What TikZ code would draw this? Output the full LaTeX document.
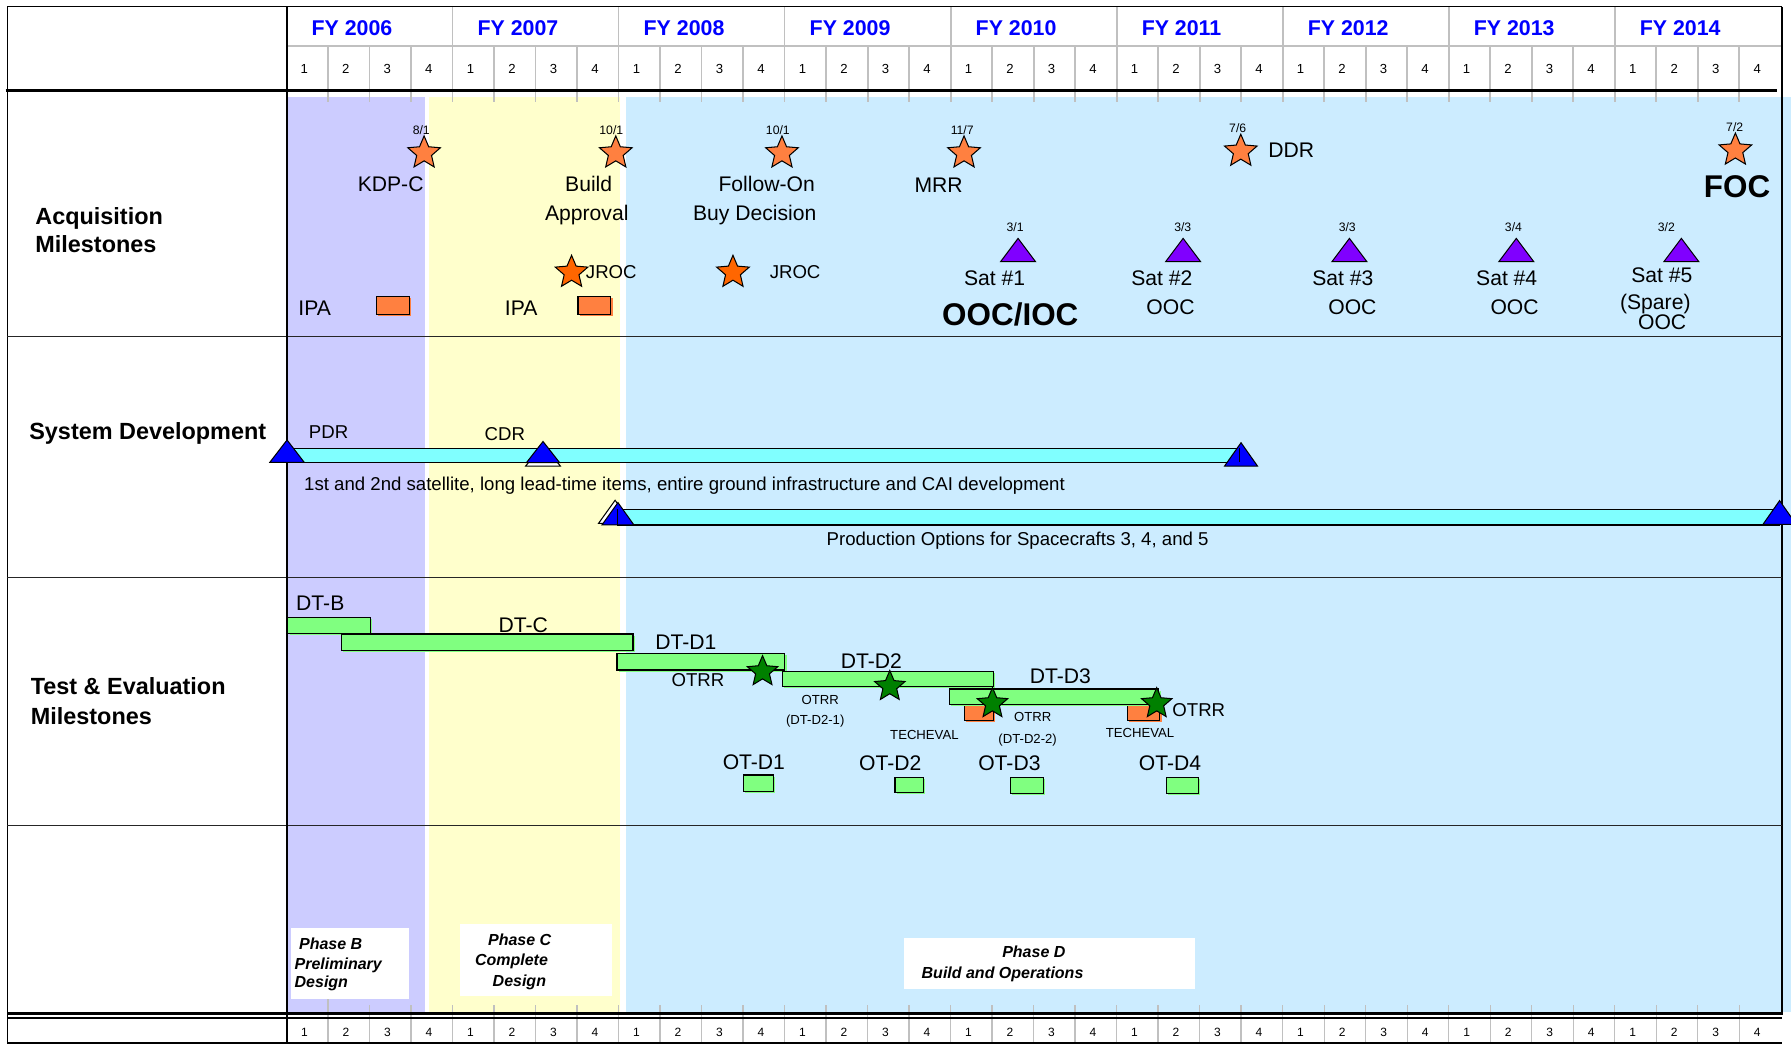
\documentclass[tikz,border=0pt]{standalone}
\usepackage{fontspec}
\setmainfont{Liberation Sans}
\usetikzlibrary{shapes.geometric}
\definecolor{bandP}{RGB}{204,204,255}
\definecolor{bandY}{RGB}{255,255,204}
\definecolor{bandB}{RGB}{204,236,255}
\definecolor{barC}{RGB}{128,255,255}
\definecolor{barG}{RGB}{128,255,128}
\definecolor{starO}{RGB}{255,128,64}
\definecolor{starJ}{RGB}{255,102,0}
\definecolor{starG}{RGB}{0,128,0}
\definecolor{triP}{RGB}{128,0,255}
\definecolor{triB}{RGB}{0,0,255}
\definecolor{gridG}{RGB}{192,192,192}
\definecolor{fyB}{RGB}{0,0,255}
\tikzset{
  tx/.style={inner sep=0pt, outer sep=0pt},
  yr/.style={tx, font=\fontsize{18.7}{20}\selectfont\bfseries, text=fyB, text height=13.4pt, text depth=0pt, anchor=west},
  qn/.style={tx, font=\fontsize{11.5}{13}\selectfont, text height=8.2pt, text depth=0pt},
  qb/.style={tx, font=\fontsize{10.5}{12}\selectfont, text height=7.5pt, text depth=0pt},
  hd/.style={tx, font=\fontsize{20.5}{24}\selectfont\bfseries, text height=14.7pt, text depth=0pt, anchor=west},
  tl/.style={tx, font=\fontsize{18.5}{22}\selectfont, text height=13.25pt, text depth=0pt},
  tm/.style={tx, font=\fontsize{16.3}{19}\selectfont, text height=11.7pt, text depth=0pt},
  ts/.style={tx, font=\fontsize{11.5}{13}\selectfont, text height=8.2pt, text depth=0pt},
  td/.style={tx, font=\fontsize{10.7}{12}\selectfont, text height=7.66pt, text depth=0pt},
  tb/.style={tx, font=\fontsize{27.5}{32}\selectfont\bfseries, text height=19.7pt, text depth=0pt},
  ph/.style={tx, font=\fontsize{14}{16}\selectfont\bfseries\itshape, text height=10pt, text depth=0pt},
  ostar/.style={star, star points=5, star point ratio=2.2, minimum size=30pt, inner sep=0pt, draw=black, line width=0.9pt, fill=starO},
  jstar/.style={ostar, fill=starJ},
  gstar/.style={ostar, fill=starG, minimum size=28pt},
  gbar/.style={draw=black, line width=1pt, fill=barG},
  gshadow/.style={fill=barG},
  oshadow/.style={fill=starO},
  cbar/.style={draw=black, line width=1pt, fill=barC},
  orect/.style={draw=black, line width=1pt, fill=starO},
  ptri/.style={draw=black, line width=0.9pt, fill=triP, line join=miter},
  btri/.style={draw=black, line width=0.9pt, fill=triB, line join=miter},
  wtri/.style={draw=black, line width=0.9pt, fill=white, line join=miter},
  gline/.style={draw=gridG, line width=1.6pt},
  frame/.style={draw=black, line width=1.2pt},
}
\begin{document}
\begin{tikzpicture}[x=1pt,y=-1pt]
\useasboundingbox (0,0) rectangle (1568,918);
\fill[white] (0,0) rectangle (1568,918);
% ---------- phase bands
\fill[bandP] (252.5,84.6) rectangle (372.4,885.7);
\fill[bandY] (376,84.6) rectangle (543,885.7);
\fill[bandB] (548,84.6) rectangle (1568,885.7);
% ---------- grid
\draw[gline] (251.6,40.3) -- (1560,40.3);
\foreach \i in {1,...,35}{
  \pgfmathsetmacro\xx{250.8+\i*36.34}
  \draw[gline] (\xx,40.3) -- (\xx,89);
  \draw[gline, line width=1.2pt] (\xx,880) -- (\xx,913);
}
\foreach \k in {1,...,8}{
  \pgfmathsetmacro\xx{250.8+\k*145.36}
  \draw[gline] (\xx,5.8) -- (\xx,40.3);
}
\draw[gline, line width=1.2pt] ({250.8+36.34},875) -- ({250.8+36.34},880);
% ---------- frame
\draw[frame] (6.4,5.8) -- (1560,5.8);
\draw[frame] (6.4,5.8) -- (6.4,913);
\draw[frame] (1560,5.8) -- (1560,889);
\draw[black, line width=2.5pt] (5,79.4) -- (1556,79.4);
\foreach \yy in {294.5,505.5,722.9} \draw[black!85, line width=1pt] (6.4,\yy) -- (1560,\yy);
\draw[black, line width=2pt] (6.4,887.3) -- (1560,887.3);
\draw[black, line width=2pt] (6.4,891.2) -- (1560,891.2);
\draw[black, line width=1.5pt] (6.4,913) -- (1560,913);
\draw[black, line width=1.8pt] (251.6,5.8) -- (251.6,913);
% ---------- header labels
\foreach \k/\yy in {0/2006,1/2007,2/2008,3/2009,4/2010,5/2011,6/2012,7/2013,8/2014}{
  \node[yr] (fy\yy) at ({250.8+\k*145.36+22},24.5) {FY \yy};
}
\foreach \i in {0,...,35}{
  \pgfmathtruncatemacro\q{mod(\i,4)+1}
  \node[qn] (qt\i) at ({250.8+(\i+0.5)*36.34-2.5},60) {\q};
  \node[qb] (qb\i) at ({250.8+(\i+0.5)*36.34-2.5},903.5) {\q};
}
% ---------- row headings
\node[hd] (hAcqA) at (31,189) {Acquisition};
\node[hd] (hAcqB) at (31,214) {Milestones};
\node[hd] (hSys) at (25.7,377.5) {System Development};
\node[hd] (hTEA) at (27,601) {Test \& Evaluation};
\node[hd] (hTEB) at (27,627) {Milestones};
% ---------- acquisition milestones
\node[ostar] (sKDP) at (371.3,134) {};
\node[td] (dKDP) at (368.8,113.8) {8/1};
\node[tl] (lKDP) at (342,161.3) {KDP-C};
\node[ostar] (sBA) at (539.1,134) {};
\node[td] (dBA) at (535.2,113.8) {10/1};
\node[tl] (lBA1) at (515.4,161.3) {Build};
\node[tl] (lBA2) at (513.7,186.8) {Approval};
\node[ostar] (sFO) at (684.6,134) {};
\node[td] (dFO) at (681,113.8) {10/1};
\node[tl] (lFO1) at (671.2,161.3) {Follow-On};
\node[tl] (lFO2) at (660.7,186.8) {Buy Decision};
\node[ostar] (sMRR) at (844,134) {};
\node[td] (dMRR) at (842.4,113.8) {11/7};
\node[tl] (lMRR) at (821.7,162) {MRR};
\node[ostar] (sDDR) at (1086.3,132.5) {};
\node[td] (dDDR) at (1083.6,112.4) {7/6};
\node[tl, anchor=west] (lDDR) at (1110.5,131.3) {DDR};
\node[ostar] (sFOC) at (1519.3,131.5) {};
\node[td] (dFOC) at (1518.7,110.9) {7/2};
\node[tb] (lFOC) at (1520.8,163.4) {FOC};
\node[jstar] (sJ1) at (500.4,238.5) {};
\node[tm, anchor=west] (lJ1) at (513,237.8) {JROC};
\node[jstar] (sJ2) at (641.7,238.5) {};
\node[tm, anchor=west] (lJ2) at (673.9,237.8) {JROC};
\node[tl] (lIPA1) at (275.5,270) {IPA};
\fill[oshadow] (331,261.2) rectangle (360,276.5);
\draw[orect] (329.5,259.7) rectangle (358.6,275);
\node[tl] (lIPA2) at (456.3,270) {IPA};
\fill[oshadow] (507.5,261.2) rectangle (536.3,276.5);
\draw[orect] (506,259.7) rectangle (534.8,275);
% satellites
\foreach \xx in {891.3,1035.8,1181.4,1327.5,1472}{
  \draw[ptri] (\xx,208.7) -- ++(15.3,20.4) -- ++(-30.6,0) -- cycle;
}
\node[td] (dS1) at (888.7,199) {3/1};
\node[td] (dS2) at (1035.5,199) {3/3};
\node[td] (dS3) at (1179.5,199) {3/3};
\node[td] (dS4) at (1325,199) {3/4};
\node[td] (dS5) at (1458.9,199) {3/2};
\node[tl] (lS1) at (870.8,243.7) {Sat \#1};
\node[tb] (lS1b) at (884.5,274.9) {OOC/IOC};
\node[tl] (lS2) at (1017.2,243.7) {Sat \#2};
\node[tl] (lS2b) at (1024.8,269.1) {OOC};
\node[tl] (lS3) at (1175.6,243.7) {Sat \#3};
\node[tl] (lS3b) at (1184,269.1) {OOC};
\node[tl] (lS4) at (1319.1,243.7) {Sat \#4};
\node[tl] (lS4b) at (1326,269.1) {OOC};
\node[tl] (lS5) at (1454.9,240.8) {Sat \#5};
\node[tl] (lS5b) at (1449.2,264.1) {(Spare)};
\node[tl] (lS5c) at (1455.2,281.6) {OOC};
% ---------- system development
\draw[cbar] (251.3,392.5) rectangle (1085,404.8);
\draw[btri] (251.3,385.2) -- ++(15.1,19.6) -- ++(-30.2,0) -- cycle;
\draw[wtri] (475.4,389.5) -- ++(15.2,18.5) -- ++(-30.4,0) -- cycle;
\draw[btri] (475.4,386.5) -- ++(14.5,18.5) -- ++(-29,0) -- cycle;
\draw[btri] (1086.5,387.6) -- ++(14.4,20.4) -- ++(-28.8,0) -- cycle;
\draw[black, line width=1pt] (1085,392.5) -- (1085,404.8);
\node[tm] (lPDR) at (287.7,378) {PDR};
\node[tm] (lCDR) at (442,379.4) {CDR};
\node[tm, anchor=west] (lDev) at (266.3,423.8) {1st and 2nd satellite, long lead-time items, entire ground infrastructure and CAI development};
\draw[cbar] (540.3,446) rectangle (1558,459.6);
\draw[wtri] (538.5,438) -- ++(14.5,20.2) -- ++(-29,0) -- cycle;
\draw[btri] (541,440) -- ++(14,19.6) -- ++(-28,0) -- cycle;
\draw[black, line width=1pt] (540.3,446) -- (540.3,459.6);
\draw[btri] (1558,438.3) -- ++(14.5,20.7) -- ++(-29,0) -- cycle;
\node[tm, anchor=west] (lProd) at (723.7,471.3) {Production Options for Spacecrafts 3, 4, and 5};
% ---------- test & evaluation
\fill[gshadow] (253.5,542) rectangle (325.9,556);
\draw[gbar] (252,540.5) rectangle (324.4,554.5);
\node[tl] (lDTB) at (280.4,528.2) {DT-B};
\fill[gshadow] (300.5,556.5) rectangle (555.7,571.2);
\draw[gbar] (299,555) rectangle (554.2,569.7);
\node[tl] (lDTC) at (458.1,547.2) {DT-C};
\fill[gshadow] (541.7,573.5) rectangle (688.6,588.1);
\draw[gbar] (540.2,572) rectangle (687.1,586.6);
\node[tl] (lDTD1) at (600.4,561.8) {DT-D1};
\fill[gshadow] (686.7,589.5) rectangle (871.5,602.7);
\draw[gbar] (685.2,588) rectangle (870,601.2);
\node[tl] (lDTD2) at (762.8,578.4) {DT-D2};
\fill[oshadow] (846.1,618.1) rectangle (871.5,632.5);
\draw[orect] (844.6,616.6) rectangle (870,631);
\fill[oshadow] (988.8,618.1) rectangle (1016.9,632.5);
\draw[orect] (987.3,616.6) rectangle (1015.4,631);
\fill[gshadow] (832.5,604.7) rectangle (1016.1,618.1);
\draw[gbar] (831,603.2) rectangle (1014.6,616.6);
\node[tl] (lDTD3) at (928.3,591.8) {DT-D3};
\node[gstar] (gS1) at (667.6,588) {};
\node[gstar] (gS2) at (779,601) {};
\node[gstar] (gS3) at (868.9,616) {};
\node[gstar] (gS4) at (1012.7,616) {};
\node[tm] (lOT1) at (611,594.8) {OTRR};
\node[ts] (lOT2a) at (718.2,612.3) {OTRR};
\node[ts] (lOT2b) at (713.7,630.4) {(DT-D2-1)};
\node[ts] (lTE1) at (809.3,643.5) {TECHEVAL};
\node[ts] (lOT3a) at (904.2,627.4) {OTRR};
\node[ts] (lOT3b) at (899.7,647) {(DT-D2-2)};
\node[ts] (lTE2) at (998.1,642) {TECHEVAL};
\node[tm, anchor=west] (lOT4) at (1026.4,621) {OTRR};
\node[tl] (lOTD1) at (660,666.8) {OT-D1};
\fill[gshadow] (652.3,680) rectangle (678.5,694.6);
\draw[gbar] (650.8,678.5) rectangle (677,693.1);
\node[tl] (lOTD2) at (779.4,667.7) {OT-D2};
\fill[gshadow] (785.1,682) rectangle (809.8,695.5);
\draw[gbar] (783.6,680.5) rectangle (808.3,694);
\node[tl] (lOTD3) at (883.7,667.7) {OT-D3};
\fill[gshadow] (886.4,682.1) rectangle (915.3,696.1);
\draw[gbar] (884.9,680.6) rectangle (913.8,694.6);
\node[tl] (lOTD4) at (1024.4,667.7) {OT-D4};
\fill[gshadow] (1022.8,682.1) rectangle (1050.5,696.1);
\draw[gbar] (1021.3,680.6) rectangle (1049,694.6);
% ---------- phase boxes
\fill[white] (255,812.8) rectangle (358.5,874.9);
\node[ph, anchor=west] (pB1) at (261.9,825.9) {Phase B};
\node[ph, anchor=west] (pB2) at (258,843.4) {Preliminary};
\node[ph, anchor=west] (pB3) at (258,859.5) {Design};
\fill[white] (403,809) rectangle (535.4,871.7);
\node[ph] (pC1) at (455,822.4) {Phase C};
\node[ph] (pC2) at (447.8,840.5) {Complete};
\node[ph] (pC3) at (454.7,858.9) {Design};
\fill[white] (791,821) rectangle (1046,866);
\node[ph] (pD1) at (905.1,833.2) {Phase D};
\node[ph] (pD2) at (877.7,851.6) {Build and Operations};
\end{tikzpicture}
\end{document}
